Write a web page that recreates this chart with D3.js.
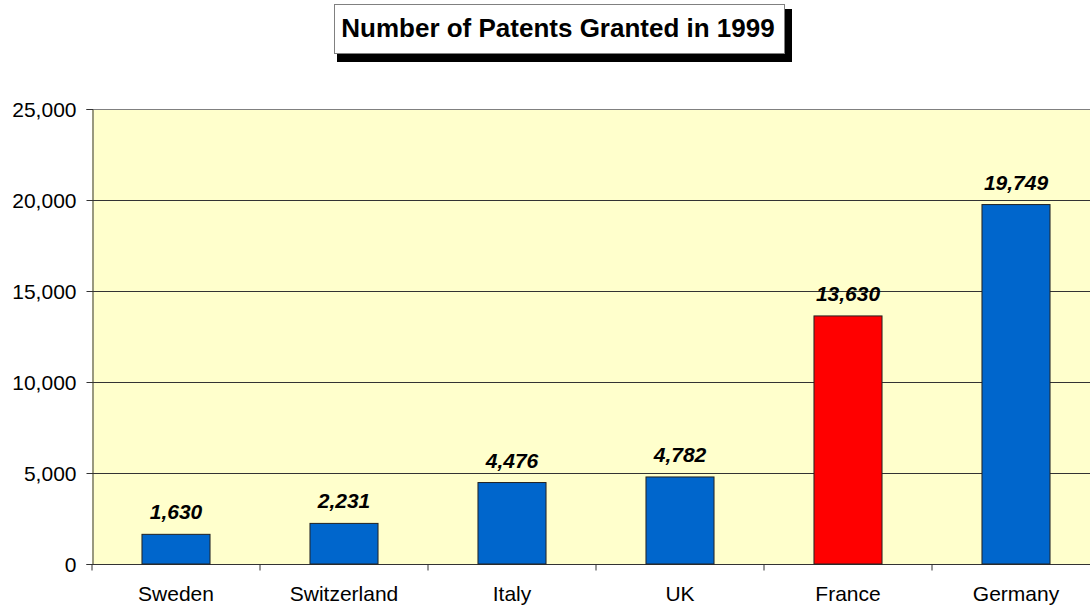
<!DOCTYPE html>
<html><head><meta charset="utf-8">
<script src="https://cdn.jsdelivr.net/npm/d3@7"></script>
<style>body{margin:0;background:#fff}svg{display:block}text{font-family:"Liberation Sans",Arial,sans-serif}</style>
</head><body><svg id="c" width="1090" height="605"></svg>
<script>
const categories = ["Sweden","Switzerland","Italy","UK","France","Germany"];
const values = [1630,2231,4476,4782,13630,19749];
const barColors = ["#0066CC","#0066CC","#0066CC","#0066CC","#FF0000","#0066CC"];
const yTicks = [0,5000,10000,15000,20000,25000];
const title = "Number of Patents Granted in 1999";

const svg = d3.select("#c");
const L = 92, R = 1100, T = 109, B = 564;
const x = d3.scaleBand().domain(categories).range([L,R]).paddingInner(0.595).paddingOuter(0.2975);
const y = d3.scaleLinear().domain([0,25000]).range([B,T]);
const fmt = d3.format(",");

svg.append("rect").attr("x",L).attr("y",T).attr("width",R-L).attr("height",B-T).attr("fill","#FFFFCC");
svg.append("line").attr("x1",L).attr("x2",R).attr("y1",T+0.5).attr("y2",T+0.5).attr("stroke","#808080");

svg.append("g").selectAll("line").data(yTicks.filter(d=>d>0&&d<25000)).join("line")
  .attr("x1",L).attr("x2",R).attr("y1",d=>Math.round(y(d))+0.5).attr("y2",d=>Math.round(y(d))+0.5)
  .attr("stroke","#333").attr("stroke-width",1);

const yAxis = svg.append("g").attr("transform",`translate(${L+0.5},0)`)
  .call(d3.axisLeft(y).tickValues(yTicks).tickFormat(fmt).tickSize(6).tickPadding(10));
yAxis.select(".domain").attr("stroke","#333");
yAxis.selectAll(".tick line").attr("stroke","#333");
yAxis.selectAll("text").attr("font-size",21).attr("fill","#000").attr("dy","0.35em").style("font-family","Liberation Sans, Arial");

const xg = svg.append("g").attr("transform",`translate(0,${B+0.5})`);
xg.append("line").attr("x1",L).attr("x2",R).attr("stroke","#333");
xg.selectAll(".tk").data(d3.range(categories.length+1)).join("line")
  .attr("x1",i=>L+i*x.step()).attr("x2",i=>L+i*x.step()).attr("y1",0).attr("y2",6).attr("stroke","#333");
xg.selectAll("text").data(categories).join("text")
  .attr("x",d=>x(d)+x.bandwidth()/2).attr("y",36).attr("text-anchor","middle")
  .attr("font-size",21).attr("fill","#000").text(d=>d);

svg.append("g").selectAll("rect").data(values).join("rect")
  .attr("x",(d,i)=>x(categories[i])).attr("width",x.bandwidth())
  .attr("y",d=>y(d)).attr("height",d=>B-y(d))
  .attr("fill",(d,i)=>barColors[i]).attr("stroke","#222").attr("stroke-width",1);

svg.append("g").selectAll("text").data(values).join("text")
  .attr("x",(d,i)=>x(categories[i])+x.bandwidth()/2).attr("y",d=>y(d)-15)
  .attr("text-anchor","middle").attr("font-size",21).attr("font-weight","bold").attr("font-style","italic")
  .attr("fill","#000").text(d=>fmt(d));

// title box
const tb = svg.append("g");
tb.append("rect").attr("x",337).attr("y",9).attr("width",455).attr("height",53).attr("fill","#000");
tb.append("rect").attr("x",334.5).attr("y",4.5).attr("width",450).attr("height",49).attr("fill","#fff").attr("stroke","#808080");
tb.append("text").attr("x",558).attr("y",37).attr("text-anchor","middle").attr("font-size",26).attr("font-weight","bold").text(title);
</script></body></html>
